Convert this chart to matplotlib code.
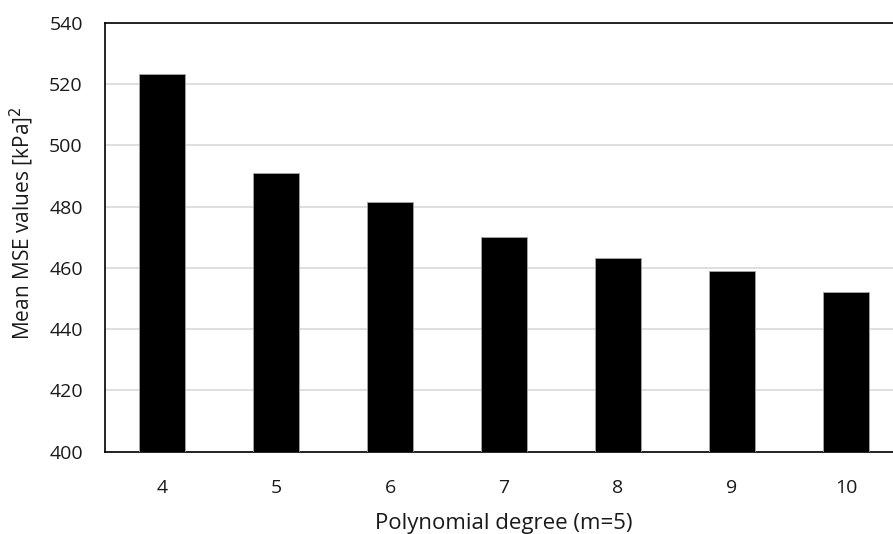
import matplotlib
matplotlib.use('Agg')
import matplotlib.pyplot as plt

plt.rcParams['font.family'] = ['Open Sans', 'DejaVu Sans']

degrees = ['4', '5', '6', '7', '8', '9', '10']
mse_values = [523.5, 491.0, 481.7, 470.2, 463.1, 458.9, 452.3]

fig = plt.figure(figsize=(8.93, 5.34), dpi=100)
ax = fig.add_axes([105 / 893, 82.3 / 534, 798 / 893, 428.7 / 534])

x = range(len(degrees))
ax.bar(x, mse_values, width=0.4, color='black', edgecolor='#a6a6a6', linewidth=0.6, zorder=3)

ax.set_xlim(-0.5, len(degrees) - 0.5)
ax.set_ylim(400, 540)
ax.set_yticks(range(400, 541, 20))
ax.set_xticks(list(x))
ax.set_xticklabels(degrees)
ax.tick_params(axis='both', length=0, labelsize=14, colors='#1a1a1a')
ax.tick_params(axis='x', pad=20)
ax.tick_params(axis='y', pad=16)

ax.grid(axis='y', color='#d9d9d9', linewidth=1.2, zorder=0)
for side in ['left', 'bottom', 'top', 'right']:
    ax.spines[side].set_color('black')
    ax.spines[side].set_linewidth(1.2)

ax.set_xlabel('Polynomial degree (m=5)', fontsize=16, color='#1a1a1a')
ax.xaxis.set_label_coords(0.5, -0.143)
ax.set_ylabel('Mean MSE values [kPa]$^2$', fontsize=15, color='#1a1a1a')
ax.yaxis.set_label_coords(-0.087, 0.533)

fig.savefig('out.png', dpi=100)
